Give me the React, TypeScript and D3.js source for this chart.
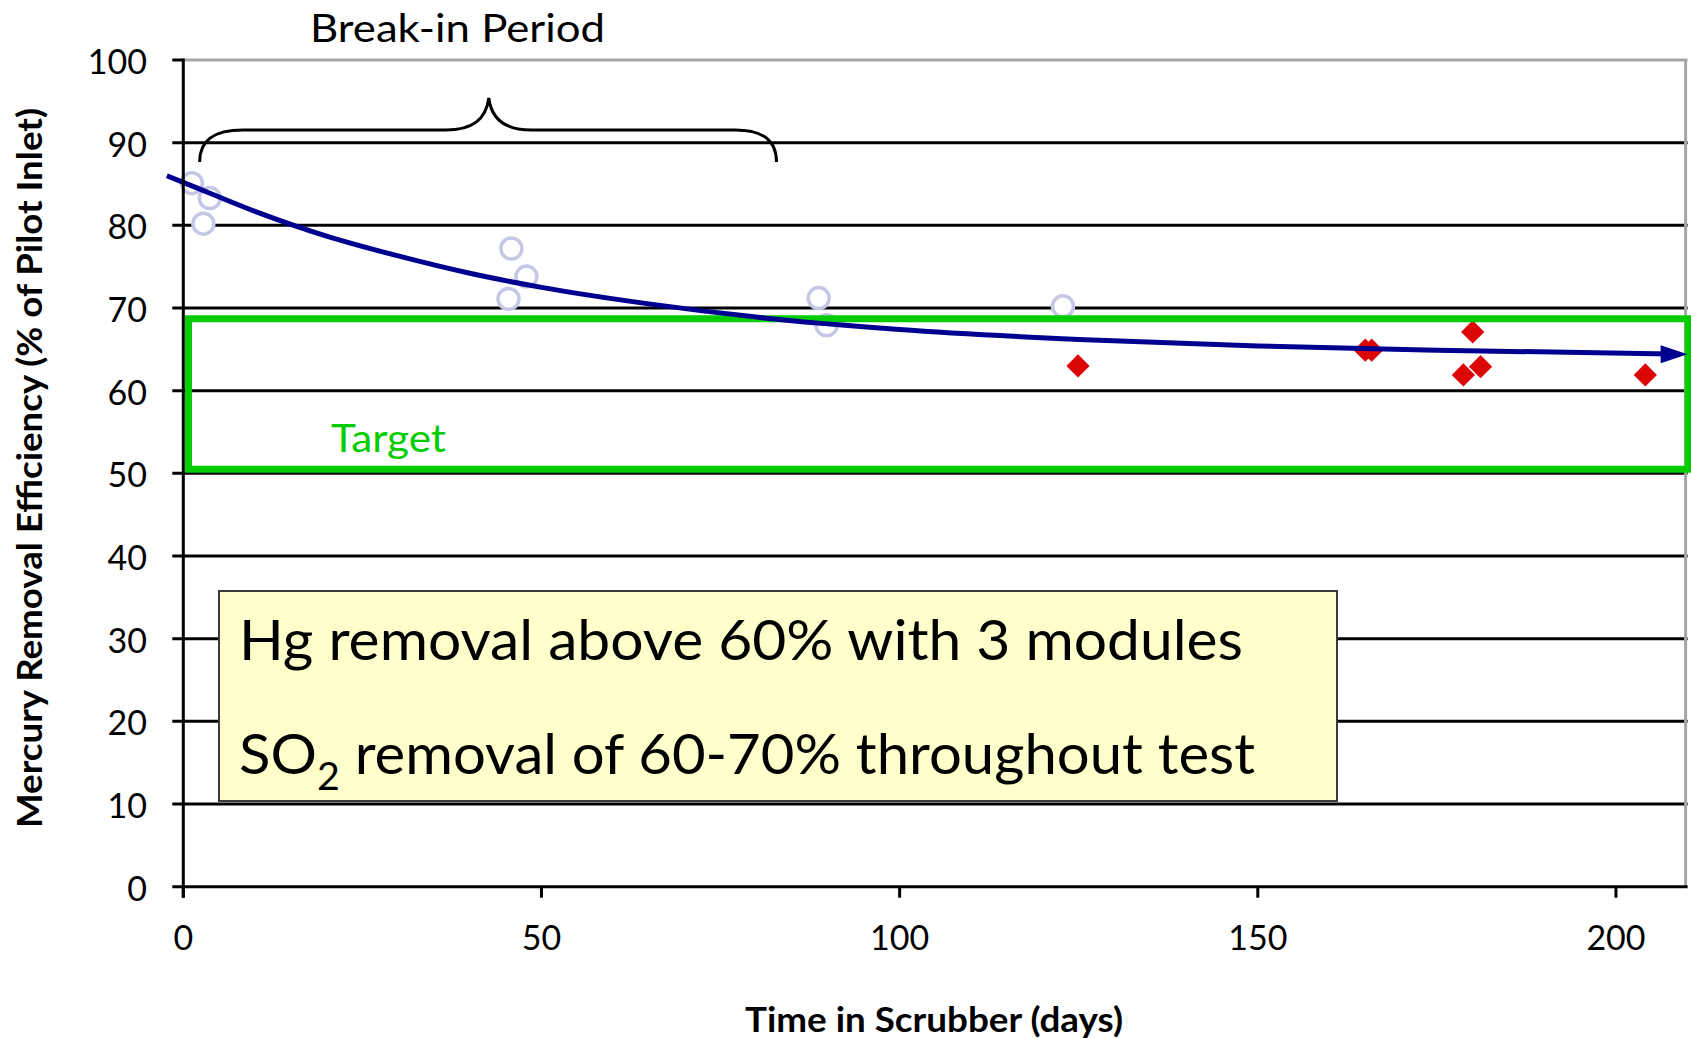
import React from 'react';
import * as d3 from 'd3';

// ---- data ----
const xTicks = [0, 50, 100, 150, 200];
const yTicks = [0, 10, 20, 30, 40, 50, 60, 70, 80, 90, 100];

// break-in period samples (hollow circles)
const breakInDays = [1.2, 3.7, 2.8, 45.8, 47.9, 45.4, 88.7, 89.8, 122.8];
const breakInEff = [85.1, 83.3, 80.2, 77.2, 73.8, 71.1, 71.2, 67.9, 70.2];

// post break-in samples (red diamonds)
const testDays = [124.9, 165.0, 165.9, 180.0, 178.7, 181.1, 204.1];
const testEff = [63.0, 64.9, 64.9, 67.1, 61.9, 62.9, 61.9];

// trend curve
const trendDays = [-2.3, 0, 10, 20, 30, 40, 50, 65, 80, 100, 125, 150, 175, 210];
const trendEff = [86.0, 85.2, 81.7, 78.7, 76.3, 74.2, 72.5, 70.5, 68.9, 67.4, 66.2, 65.4, 64.9, 64.4];

// target band
const targetLow = 50.5;
const targetHigh = 68.7;
const targetStartDay = 0.65;
const targetEndDay = 210;

const FONT = 'Lato, "Open Sans", sans-serif';

export default function App() {
  const W = 1691;
  const H = 1038;
  const x = d3.scaleLinear().domain([0, 210]).range([183.3, 1687.6]);
  const y = d3.scaleLinear().domain([0, 100]).range([886.7, 60]);

  const trendPts: [number, number][] = trendDays.map((d, i) => [d, trendEff[i]]);
  const line = d3
    .line<[number, number]>()
    .x((d) => x(d[0]))
    .y((d) => y(d[1]))
    .curve(d3.curveMonotoneX);

  const tipX = x(trendDays[trendDays.length - 1]);
  const tipY = y(trendEff[trendEff.length - 1]);

  const diamond = d3.symbol().type(d3.symbolSquare).size(270)();

  const x0 = x(0);
  const xEnd = x(210);
  const y0 = y(0);

  return (
    <svg
      width={W}
      height={H}
      style={{ position: 'absolute', left: 0, top: 0, background: '#fff' }}
      fontFamily={FONT}
    >
      <defs>
        <clipPath id="trendClip">
          <rect x={0} y={0} width={tipX - 18} height={H} />
        </clipPath>
      </defs>

      {/* grid lines */}
      {yTicks
        .filter((t) => t > 0 && t < 100)
        .map((t) => (
          <line key={'g' + t} x1={x0 - 11} x2={xEnd} y1={y(t)} y2={y(t)} stroke="#000" strokeWidth={3} />
        ))}
      {/* top border (gray) */}
      <line x1={x0} x2={xEnd} y1={y(100)} y2={y(100)} stroke="#a6a6a6" strokeWidth={3} />
      <line x1={x0 - 11} x2={x0} y1={y(100)} y2={y(100)} stroke="#000" strokeWidth={3} />
      {/* right border (gray) */}
      <line x1={xEnd - 2} x2={xEnd - 2} y1={y(100)} y2={y0} stroke="#a6a6a6" strokeWidth={3} />

      {/* break-in circles */}
      {breakInDays.map((d, i) => (
        <circle
          key={'c' + i}
          cx={x(d)}
          cy={y(breakInEff[i])}
          r={10.5}
          fill="#fff"
          stroke="#c6c6e6"
          strokeWidth={3.5}
        />
      ))}

      {/* red diamonds */}
      {testDays.map((d, i) => (
        <path
          key={'d' + i}
          d={diamond as string}
          transform={`translate(${x(d)},${y(testEff[i])}) rotate(45)`}
          fill="#dd0606"
        />
      ))}

      {/* target band */}
      <rect
        x={x(targetStartDay) + 0.5}
        y={y(targetHigh)}
        width={x(targetEndDay) - x(targetStartDay)}
        height={y(targetLow) - y(targetHigh)}
        fill="none"
        stroke="#00cc00"
        strokeWidth={7}
      />
      <text x={331} y={451.7} fontSize={39} fill="#00cc00" textLength={115} lengthAdjust="spacingAndGlyphs">
        Target
      </text>

      {/* trend curve */}
      <path
        d={line(trendPts) as string}
        fill="none"
        stroke="#000090"
        strokeWidth={5}
        clipPath="url(#trendClip)"
      />
      <path
        d={`M${tipX},${tipY} L${tipX - 27},${tipY - 9} L${tipX - 27},${tipY + 9} Z`}
        fill="#000090"
      />

      {/* yellow annotation box */}
      <rect x={219} y={591} width={1118} height={210} fill="#ffffcc" stroke="#3a3a3a" strokeWidth={2} />
      <text x={239} y={660} fontSize={56} fill="#000" textLength={1004} lengthAdjust="spacingAndGlyphs">
        Hg removal above 60% with 3 modules
      </text>
      <text x={239} y={774} fontSize={56} fill="#000" textLength={1016} lengthAdjust="spacingAndGlyphs">
        SO
        <tspan dy={16} fontSize={38}>
          2
        </tspan>
        <tspan dy={-16}> removal of 60-70% throughout test</tspan>
      </text>

      {/* axes */}
      <line x1={x0} x2={x0} y1={y(100) - 1.5} y2={y0 + 11} stroke="#000" strokeWidth={3} />
      <line x1={x0 - 11} x2={xEnd} y1={y0} y2={y0} stroke="#000" strokeWidth={3} />
      {yTicks.map((t) => (
        <text key={'yl' + t} x={147} y={y(t) + 14} fontSize={34} textAnchor="end" fill="#000">
          {t}
        </text>
      ))}
      {xTicks.map((t) => (
        <g key={'xt' + t}>
          <line x1={x(t)} x2={x(t)} y1={y0} y2={y0 + 11} stroke="#000" strokeWidth={3} />
          <text x={x(t)} y={950} fontSize={34} textAnchor="middle" fill="#000">
            {t}
          </text>
        </g>
      ))}

      {/* axis titles */}
      <text
        x={934}
        y={1031.7}
        fontSize={34}
        fontWeight="bold"
        textAnchor="middle"
        textLength={378}
        lengthAdjust="spacingAndGlyphs"
        fill="#000"
      >
        Time in Scrubber (days)
      </text>
      <text
        transform="translate(41.7,468) rotate(-90)"
        fontSize={34}
        fontWeight="bold"
        textAnchor="middle"
        textLength={720}
        lengthAdjust="spacingAndGlyphs"
        fill="#000"
      >
        Mercury Removal Efficiency (% of Pilot Inlet)
      </text>

      {/* break-in brace */}
      <path
        d="M199.6,162 C199.6,140 214,130 243,130 L446,130 C472,130 486,120 488.8,98 C491.5,120 506,130 531,130 L735,130 C763,130 776.5,140 776.5,162"
        fill="none"
        stroke="#000"
        strokeWidth={3}
      />
      <text x={310} y={42} fontSize={38} fill="#000" textLength={295} lengthAdjust="spacingAndGlyphs">
        Break-in Period
      </text>
    </svg>
  );
}
